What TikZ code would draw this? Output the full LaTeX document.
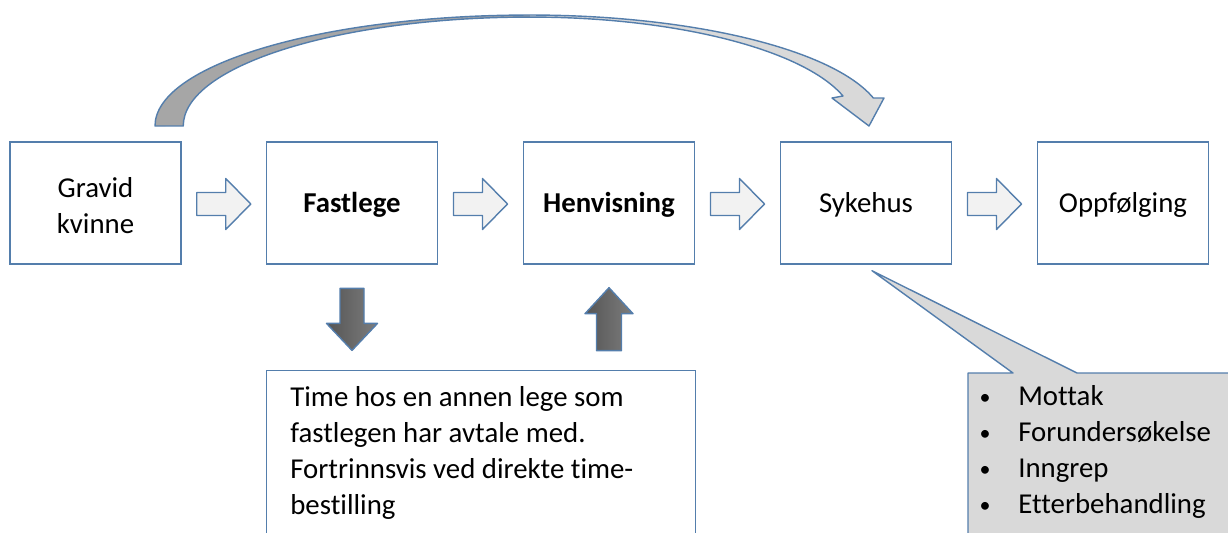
\documentclass[tikz,border=0pt]{standalone}
\usepackage{fontspec}
\setmainfont{Carlito}[Ligatures=NoCommon]
\usetikzlibrary{calc}
\definecolor{edge}{RGB}{84,126,172}
\definecolor{lightfill}{RGB}{242,242,242}
\definecolor{callfill}{RGB}{217,217,217}
\definecolor{darkarc}{RGB}{166,166,166}
\definecolor{darkA}{RGB}{85,85,85}
\definecolor{darkB}{RGB}{125,125,125}
\begin{document}
\begin{tikzpicture}[x=0.02cm,y=0.02cm,
  box/.style={draw=edge, line width=0.8pt, minimum width=3.42cm, minimum height=2.44cm, inner sep=0pt, fill=white},
  txt/.style={font=\fontsize{16.4}{20.4}\selectfont, inner sep=0pt, anchor=base},
  lbl/.style={txt, anchor=base west},
  bul/.style={font=\fontsize{12.5}{15}\selectfont, inner sep=0pt, anchor=base},
  outl/.style={draw=edge, line width=0.8pt, line join=round},
  rarr/.pic={\draw[outl, fill=lightfill] (-27,11.5) -- (2,11.5) -- (2,25.5) -- (27,0) -- (2,-25.5) -- (2,-11.5) -- (-27,-11.5) -- cycle;},
  darr/.pic={\draw[outl, left color=darkA, right color=darkB] (-12,0) -- (12,0) -- (12,-35) -- (25.5,-35) -- (0,-62) -- (-25.5,-35) -- (-12,-35) -- cycle;},
  uarr/.pic={\draw[outl, left color=darkA, right color=darkB] (-12.5,0) -- (12.5,0) -- (12.5,37) -- (24,37) -- (0,63) -- (-24,37) -- (-12.5,37) -- cycle;}
]
\useasboundingbox (0,0) rectangle (1228,-532);
\clip (0,0) rectangle (1228,-532);

% curved arrow on top
\fill[darkarc] (155,-126) arc[start angle=180,end angle=90,x radius=7.5cm,y radius=2.22cm]
  -- (530,-17) arc[start angle=90,end angle=180,x radius=6.94cm,y radius=2.18cm] -- cycle;
\fill[callfill] (530,-15) arc[start angle=90,end angle=14.6,x radius=7.1cm,y radius=2.22cm]
  -- (884,-98) -- (869,-126) -- (832,-98) -- (843,-96)
  arc[start angle=16,end angle=90,x radius=6.51cm,y radius=2.18cm] -- cycle;
\draw[outl] (155,-126) arc[start angle=180,end angle=90,x radius=7.5cm,y radius=2.22cm]
  arc[start angle=90,end angle=14.6,x radius=7.1cm,y radius=2.22cm]
  -- (884,-98) -- (869,-126) -- (832,-98) -- (843,-96)
  arc[start angle=16,end angle=90,x radius=6.51cm,y radius=2.18cm]
  arc[start angle=90,end angle=180,x radius=6.94cm,y radius=2.18cm] -- cycle;

% boxes
\node[box] (b1) at (95.5,-203) {};
\node[box] (b2) at (352,-203) {};
\node[box] (b3) at (609,-203) {};
\node[box] (b4) at (866,-203) {};
\node[box] (b5) at (1123,-203) {};

\node[txt] (t1a) at (95.5,-197) {Gravid};
\node[txt] (t1b) at (95.5,-233) {kvinne};
\node[txt] (t2) at (352,-212) {\bfseries Fastlege};
\node[txt] (t3) at (609,-212) {\bfseries Henvisning};
\node[txt] (t4) at (866,-212) {Sykehus};
\node[txt] (t5) at (1123,-212) {Oppfølging};

% block arrows between boxes
\pic at ($(b1.east)!0.5!(b2.west)+(0,-1)$) {rarr};
\pic at ($(b2.east)!0.5!(b3.west)+(0,-1)$) {rarr};
\pic at ($(b3.east)!0.5!(b4.west)+(0,-1)$) {rarr};
\pic at ($(b4.east)!0.5!(b5.west)+(0,-1)$) {rarr};

% vertical arrows
\pic at ($(b2.south)+(0,-23.7)$) {darr};
\pic at ($(b3.south)+(0,-86)$) {uarr};

% bottom note box
\node[box, minimum width=8.58cm, minimum height=3.6cm, anchor=north west] (note) at (266,-370) {};
\node[lbl] (n1) at (290,-406.7) {Time hos en annen lege som};
\node[lbl] (n2) at (290,-442.7) {fastlegen har avtale med.};
\node[lbl] (n3) at (290,-478.7) {Fortrinnsvis ved direkte time-};
\node[lbl] (n4) at (290,-514.7) {bestilling};

% callout
\coordinate (tip) at ($(b4.south)+(6,-6)$);
\draw[outl, fill=callfill] (968,-373) -- (1013,-373) -- (tip) -- (1077,-373) -- (1240,-373)
  -- (1240,-560) -- (968,-560) -- cycle;
\foreach \y/\t [count=\i] in {405/Mottak,441/Forundersøkelse,477/Inngrep,513/Etterbehandling}{
  \node[bul] (cb\i) at (985,-\y+1) {•};
  \node[lbl] (ct\i) at (1018,-\y) {\t};
}
\end{tikzpicture}
\end{document}
